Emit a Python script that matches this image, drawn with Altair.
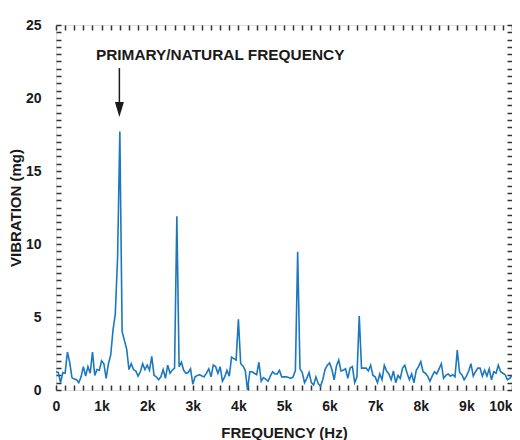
import altair as alt
import pandas as pd

# ---- data ----
freq_hz = list(range(0, 10001, 50))
vibration_mg = [
    1.25, 1.2, 0.5, 1.2, 1.15, 2.6, 1.9, 0.85, 0.75, 0.7, 0.5, 0.9, 1.6, 0.95, 1.6, 1.15, 2.6, 1.0, 1.4, 1.35,
    2.0, 1.8, 0.8, 1.8, 2.4, 4.1, 5.2, 9.0, 17.7, 4.0, 3.4, 2.8, 1.4, 1.8, 1.4, 1.3, 0.95, 1.25, 1.8, 1.4,
    1.7, 1.35, 2.3, 1.0, 0.9, 0.7, 0.9, 1.4, 0.8, 1.7, 1.15, 1.35, 1.5, 11.9, 1.6, 1.9, 1.35, 1.15, 1.2, 1.45,
    0.4, 0.9, 1.0, 1.05, 0.95, 0.9, 1.15, 1.45, 0.9, 1.7, 1.6, 1.15, 1.6, 0.6, 0.9, 1.35, 0.95, 2.25, 2.15, 2.05,
    4.84, 1.8, 1.65, 1.35, 0.0, 1.25, 1.25, 1.15, 1.05, 1.9, 0.6, 0.85, 0.75, 0.6, 0.95, 1.25, 1.1, 1.1, 1.35, 0.9,
    0.9, 0.9, 0.85, 0.8, 0.9, 1.35, 9.47, 1.45, 1.2, 0.5, 0.8, 1.2, 0.5, 0.35, 0.9, 0.45, 0.25, 0.7, 1.4, 1.7,
    1.85, 1.4, 0.7, 1.65, 2.05, 1.3, 1.35, 1.45, 0.8, 1.5, 1.6, 0.5, 0.9, 5.07, 1.5, 1.5, 1.5, 1.3, 1.7, 1.0,
    0.9, 0.5, 1.1, 0.7, 1.7, 1.3, 1.1, 0.7, 1.3, 0.5, 1.0, 0.8, 1.5, 1.7, 1.15, 0.7, 1.1, 0.5, 1.35, 1.6,
    1.94, 1.25, 1.15, 0.95, 0.6, 0.95, 1.25, 1.1, 1.45, 1.8, 0.8, 1.0, 1.1, 0.95, 1.05, 0.9, 2.74, 1.2, 1.05, 0.7,
    0.95, 1.3, 1.8, 0.95, 1.25, 1.5, 1.5, 0.95, 1.35, 0.95, 1.45, 0.7, 1.25, 1.15, 1.7, 1.25, 1.15, 1.05, 0.7, 0.8,
    1.0,
]

x_label_values = [0, 1000, 2000, 3000, 4000, 5000, 6000, 7000, 8000, 9000, 10000]
y_label_values = [0, 5, 10, 15, 20, 25]
x_minor_ticks = list(range(0, 10001, 200))
y_minor_ticks = [i / 2 for i in range(0, 51)]

annotation_text = ["PRIMARY/NATURAL FREQUENCY"]
annotation_x = [875]
annotation_y = [22.95]

arrow_x = [1390]
arrow_top = [22.05]
arrow_shaft_end = [19.6]
arrow_head_y = [19.21]

# ---- tables ----
df = pd.DataFrame({"freq": freq_hz, "vib": vibration_mg})
annot_df = pd.DataFrame({"x": annotation_x, "y": annotation_y, "label": annotation_text})
arrow_df = pd.DataFrame({"x": arrow_x, "y": arrow_top, "y2": arrow_shaft_end, "yh": arrow_head_y})

FONT = "Liberation Sans"
INK = "#1a1a1a"
x_scale = alt.Scale(domain=[0, 10000], nice=False, zero=False)
y_scale = alt.Scale(domain=[0, 25], nice=False)

base = alt.Chart(df)

line = base.mark_line(color="#1b78be", strokeWidth=1.6, clip=True).encode(
    x=alt.X(
        "freq:Q",
        scale=x_scale,
        axis=alt.Axis(
            orient="bottom", values=x_label_values,
            labelExpr="datum.value == 0 ? '0' : format(datum.value / 1000, 'd') + 'k'",
            labelAlign={"expr": "datum.value == 10000 ? 'right' : 'center'"},
            ticks=False, domain=False, grid=False, labelFlush=False, labelOverlap=False,
            labelPadding=9, labelFontSize=14, labelFontWeight="bold", labelColor=INK, labelFont=FONT,
            title="FREQUENCY (Hz)", titleFontSize=15, titleFontWeight="bold", titleColor=INK,
            titleFont=FONT, titlePadding=12,
        ),
    ),
    y=alt.Y(
        "vib:Q",
        scale=y_scale,
        axis=alt.Axis(
            orient="left", values=y_label_values,
            ticks=False, domain=False, grid=False, labelFlush=False, labelOverlap=False,
            labelPadding=15, labelFontSize=14, labelFontWeight="bold", labelColor=INK, labelFont=FONT,
            title="VIBRATION (mg)", titleFontSize=15, titleFontWeight="bold", titleColor=INK,
            titleFont=FONT, titlePadding=2,
        ),
    ),
)

def tick_axis(orient, values):
    return alt.Axis(
        orient=orient, values=values, labels=False, domain=False, grid=False,
        ticks=True, tickSize=5, tickWidth=1.5, tickColor="#333333", offset=-5, title=None,
    )

ticks_bl = base.mark_point(opacity=0).encode(
    x=alt.X("freq:Q", scale=x_scale, axis=tick_axis("bottom", x_minor_ticks)),
    y=alt.Y("vib:Q", scale=y_scale, axis=tick_axis("left", y_minor_ticks)),
)
ticks_tr = base.mark_point(opacity=0).encode(
    x=alt.X("freq:Q", scale=x_scale, axis=tick_axis("top", x_minor_ticks)),
    y=alt.Y("vib:Q", scale=y_scale, axis=tick_axis("right", y_minor_ticks)),
)

annot = alt.Chart(annot_df).mark_text(
    align="left", baseline="middle", fontSize=15.4, fontWeight="bold", color=INK, font=FONT
).encode(
    x=alt.X("x:Q", scale=x_scale, axis=None),
    y=alt.Y("y:Q", scale=y_scale, axis=None),
    text="label:N",
)

shaft = alt.Chart(arrow_df).mark_rule(color=INK, strokeWidth=1.5).encode(
    x=alt.X("x:Q", scale=x_scale, axis=None),
    y=alt.Y("y:Q", scale=y_scale, axis=None),
    y2="y2:Q",
)

head = alt.Chart(arrow_df).mark_point(
    shape="M-0.6,-1L0.6,-1L0,1Z", size=225, filled=True, color=INK, opacity=1
).encode(
    x=alt.X("x:Q", scale=x_scale, axis=None),
    y=alt.Y("yh:Q", scale=y_scale, axis=None),
)

chart = (
    alt.layer(line, ticks_bl, ticks_tr, annot, shaft, head)
    .resolve_axis(x="independent", y="independent")
    .properties(
        width=456, height=365,
        autosize=alt.AutoSizeParams(type="none"),
        padding={"left": 48, "top": 17, "right": 0, "bottom": 50},
        background="white",
    )
    .configure_view(stroke="#1a1a1a", strokeWidth=2)
    .configure(font=FONT)
)

chart.save("out.html", embed_options={"renderer": "svg", "actions": False})
